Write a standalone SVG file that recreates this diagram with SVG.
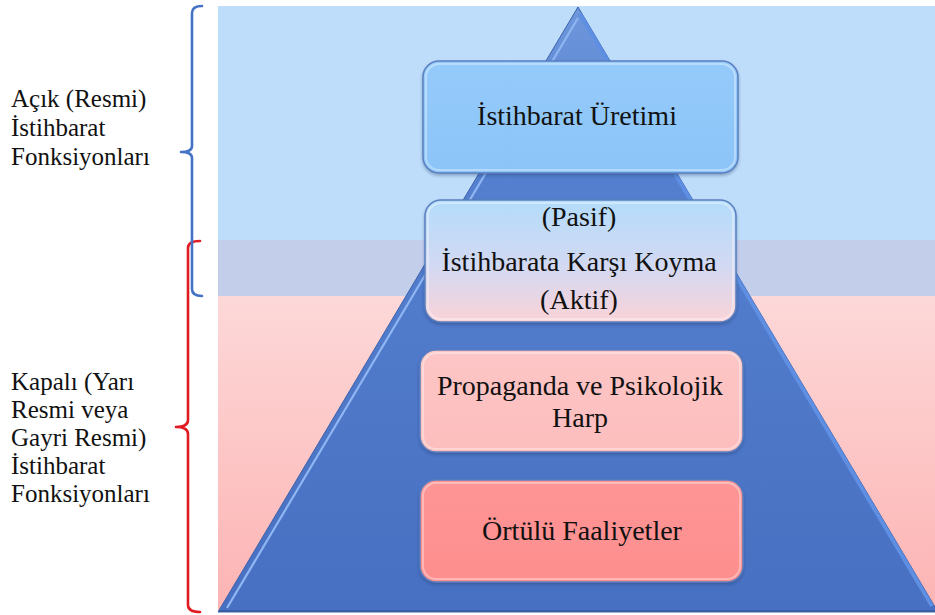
<svg xmlns="http://www.w3.org/2000/svg" width="935" height="615" viewBox="0 0 935 615">
  <defs>
    <linearGradient id="pinkBand" x1="0" y1="0" x2="0" y2="1">
      <stop offset="0" stop-color="#FDD8D8"/>
      <stop offset="1" stop-color="#FDB3B3"/>
    </linearGradient>
    <linearGradient id="triFill" x1="0" y1="0" x2="0" y2="1">
      <stop offset="0" stop-color="#6E97DC"/>
      <stop offset="0.25" stop-color="#5580CF"/>
      <stop offset="1" stop-color="#4870C2"/>
    </linearGradient>
    <linearGradient id="box1Fill" x1="0" y1="0" x2="0" y2="1">
      <stop offset="0" stop-color="#95CBFB"/>
      <stop offset="1" stop-color="#8CC4F8"/>
    </linearGradient>
    <linearGradient id="box2Fill" x1="0" y1="0" x2="0" y2="1">
      <stop offset="0" stop-color="#B3DCFB"/>
      <stop offset="0.55" stop-color="#D3D9F2"/>
      <stop offset="1" stop-color="#FAD3D8"/>
    </linearGradient>
    <linearGradient id="box3Fill" x1="0" y1="0" x2="0" y2="1">
      <stop offset="0" stop-color="#FDC6C6"/>
      <stop offset="1" stop-color="#FDBDBD"/>
    </linearGradient>
    <linearGradient id="box4Fill" x1="0" y1="0" x2="0" y2="1">
      <stop offset="0" stop-color="#FF9595"/>
      <stop offset="1" stop-color="#FD8E8E"/>
    </linearGradient>
    <filter id="shadow" x="-10%" y="-10%" width="120%" height="130%">
      <feDropShadow dx="0" dy="2" stdDeviation="1.5" flood-color="#203060" flood-opacity="0.35"/>
    </filter>
  </defs>
  <style>
    .box { stroke: #5A7FBF; stroke-width: 1.5; filter: url(#shadow); }
    .inner { fill: none; stroke: #FFFFFF; stroke-opacity: 0.35; stroke-width: 2; }
    text { font-family: Liberation Serif, Tinos, Times New Roman, Times, DejaVu Serif, serif; }
    .t { font-size: 28px; fill: #111111; text-anchor: middle; }
    .lbl { font-size: 25px; fill: #111111; }
    .br { fill: none; stroke-width: 2.6; stroke-linecap: round; stroke-linejoin: round; }
  </style>

  <g id="background">
    <rect x="218" y="6" width="717" height="235" fill="#BEDDFB"/>
    <rect x="218" y="240" width="717" height="56" fill="#C3CEEB"/>
    <rect x="218" y="296" width="717" height="316" fill="url(#pinkBand)"/>
  </g>

  <g id="pyramid">
    <polygon points="578,7 218,612 938,612" fill="url(#triFill)" stroke="#3C62AC" stroke-width="1"/>
    <line x1="578" y1="18" x2="227" y2="608" stroke="#8FB6F2" stroke-width="2.2"/>
    <line x1="580" y1="14" x2="932" y2="606" stroke="#5E8FE2" stroke-width="4"/>
    <line x1="219" y1="611" x2="935" y2="611" stroke="#3A5EA6" stroke-width="2"/>
  </g>

  <g id="node-uretim">
    <rect class="box" x="423" y="61" width="315" height="112" rx="16" fill="url(#box1Fill)"/>
    <rect class="inner" x="426" y="64" width="309" height="106" rx="13"/>
    <text class="t" x="577" y="125" font-family="Liberation Serif">İstihbarat Üretimi</text>
  </g>

  <g id="node-karsi-koyma">
    <rect class="box" x="425" y="200" width="311" height="122" rx="16" fill="url(#box2Fill)"/>
    <rect class="inner" x="428" y="203" width="305" height="116" rx="13"/>
    <text class="t" x="579" y="226" font-family="Liberation Serif">(Pasif)</text>
    <text class="t" x="579" y="271" font-family="Liberation Serif">İstihbarata Karşı Koyma</text>
    <text class="t" x="579" y="309" font-family="Liberation Serif">(Aktif)</text>
  </g>

  <g id="node-propaganda">
    <rect class="box" x="420" y="350" width="323" height="102" rx="16" fill="url(#box3Fill)"/>
    <rect class="inner" x="423" y="353" width="317" height="96" rx="13"/>
    <text class="t" x="580" y="395" font-family="Liberation Serif">Propaganda ve Psikolojik</text>
    <text class="t" x="580" y="427" font-family="Liberation Serif">Harp</text>
  </g>

  <g id="node-ortulu">
    <rect class="box" x="420" y="480" width="323" height="102" rx="16" fill="url(#box4Fill)"/>
    <rect class="inner" x="423" y="483" width="317" height="96" rx="13"/>
    <text class="t" x="582" y="540" font-family="Liberation Serif">Örtülü Faaliyetler</text>
  </g>

  <g id="connectors">
    <path class="br" stroke="#E11B22" d="M200,241 Q188,241 188,248 L188,420 Q188,427 176,427 Q188,427 188,434 L188,605 Q188,612 200,612"/>
    <path class="br" stroke="#4472C4" d="M202,6 Q192,6 192,13 L192,146 Q192,152 181,152 Q192,152 192,158 L192,289 Q192,296 202,296"/>
  </g>

  <g id="label-acik">
    <text class="lbl" x="11" y="107" font-family="Liberation Serif">Açık (Resmi)</text>
    <text class="lbl" x="11" y="136" font-family="Liberation Serif">İstihbarat</text>
    <text class="lbl" x="11" y="165" font-family="Liberation Serif">Fonksiyonları</text>
  </g>

  <g id="label-kapali">
    <text class="lbl" x="11" y="390" font-family="Liberation Serif">Kapalı (Yarı</text>
    <text class="lbl" x="11" y="418" font-family="Liberation Serif">Resmi veya</text>
    <text class="lbl" x="11" y="446" font-family="Liberation Serif">Gayri Resmi)</text>
    <text class="lbl" x="11" y="474" font-family="Liberation Serif">İstihbarat</text>
    <text class="lbl" x="11" y="502" font-family="Liberation Serif">Fonksiyonları</text>
  </g>
</svg>
